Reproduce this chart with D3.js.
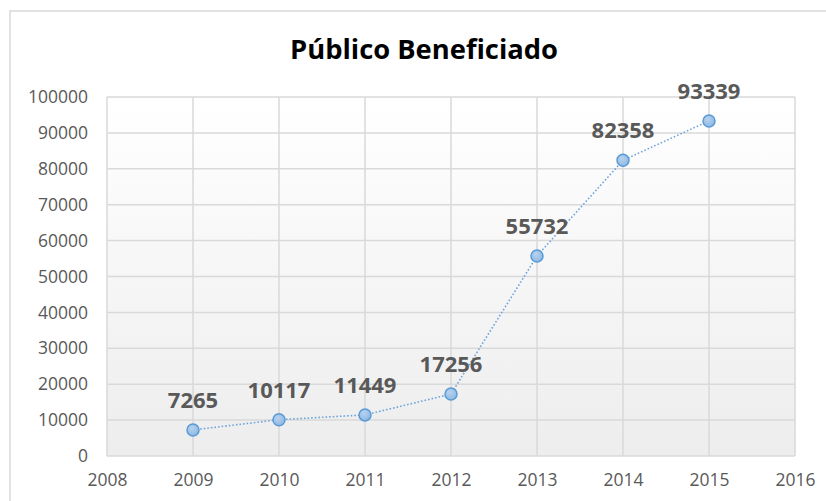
<!DOCTYPE html>
<html>
<head>
<meta charset="utf-8">
<script src="https://cdn.jsdelivr.net/npm/d3@7"></script>
<style>
  html, body { margin: 0; padding: 0; background: #fff; }
  svg { display: block; }
</style>
</head>
<body>
<svg id="chart" width="826" height="501"></svg>
<script>
const years = [2009, 2010, 2011, 2012, 2013, 2014, 2015];
const publico = [7265, 10117, 11449, 17256, 55732, 82358, 93339];
const xTicks = [2008, 2009, 2010, 2011, 2012, 2013, 2014, 2015, 2016];
const yTicks = [0, 10000, 20000, 30000, 40000, 50000, 60000, 70000, 80000, 90000, 100000];
const title = 'Público Beneficiado';

const svg = d3.select('#chart');
const defs = svg.append('defs');

const bg = defs.append('linearGradient').attr('id', 'plotbg')
  .attr('x1', 0).attr('y1', 0).attr('x2', 0).attr('y2', 1);
bg.append('stop').attr('offset', '0%').attr('stop-color', '#ffffff');
bg.append('stop').attr('offset', '100%').attr('stop-color', '#ededed');

const mk = defs.append('radialGradient').attr('id', 'marker')
  .attr('cx', '40%').attr('cy', '35%').attr('r', '70%');
mk.append('stop').attr('offset', '0%').attr('stop-color', '#b7d2ee');
mk.append('stop').attr('offset', '100%').attr('stop-color', '#8db7e3');

// chart frame (cropped on right / bottom)
svg.append('path').attr('d', 'M10,501V11H826')
  .attr('fill', 'none').attr('stroke', '#d9d9d9').attr('stroke-width', 1.5);

const pL = 107, pR = 795, pT = 97, pB = 456;
const x = d3.scaleLinear().domain([2008, 2016]).range([pL, pR]);
const y = d3.scaleLinear().domain([0, 100000]).range([pB, pT]);

svg.append('rect').attr('x', pL).attr('y', pT)
  .attr('width', pR - pL).attr('height', pB - pT)
  .attr('fill', 'url(#plotbg)');

const grid = svg.append('g');
grid.selectAll('line.h').data(yTicks).enter().append('line')
  .attr('x1', pL).attr('x2', pR)
  .attr('y1', d => y(d)).attr('y2', d => y(d))
  .attr('stroke', '#d9d9d9').attr('stroke-width', 1.5);
grid.selectAll('line.v').data(xTicks).enter().append('line')
  .attr('y1', pT).attr('y2', pB)
  .attr('x1', d => x(d)).attr('x2', d => x(d))
  .attr('stroke', '#d9d9d9').attr('stroke-width', 1.5);

const yAxis = svg.append('g').attr('transform', `translate(${pL},0)`)
  .call(d3.axisLeft(y).tickValues(yTicks).tickFormat(d3.format('d')).tickSize(0).tickPadding(19));
const xAxis = svg.append('g').attr('transform', `translate(0,${pB})`)
  .call(d3.axisBottom(x).tickValues(xTicks).tickFormat(d3.format('d')).tickSize(0).tickPadding(18));
[yAxis, xAxis].forEach(a => {
  a.select('.domain').remove();
  a.selectAll('text').attr('fill', '#595959')
    .attr('font-family', '"Open Sans", sans-serif').attr('font-size', '17.5px');
});

svg.append('text').attr('x', 424).attr('y', 59)
  .attr('text-anchor', 'middle')
  .attr('font-family', '"Open Sans", sans-serif').attr('font-weight', 'bold')
  .attr('font-size', '26.5px').attr('fill', '#000')
  .attr('textLength', 268).attr('lengthAdjust', 'spacingAndGlyphs')
  .text(title);

const pts = years.map((yr, i) => ({ year: yr, value: publico[i] }));

svg.append('path').datum(pts)
  .attr('fill', 'none').attr('stroke', '#6fa4dc').attr('stroke-width', 1.6)
  .attr('stroke-dasharray', '1.6 2')
  .attr('d', d3.line().x(d => x(d.year)).y(d => y(d.value)));

svg.selectAll('circle.pt').data(pts).enter().append('circle')
  .attr('cx', d => x(d.year)).attr('cy', d => y(d.value)).attr('r', 6)
  .attr('fill', 'url(#marker)').attr('stroke', '#5b9bd5').attr('stroke-width', 1.5);

svg.selectAll('text.lbl').data(pts).enter().append('text')
  .attr('x', d => x(d.year)).attr('y', d => y(d.value) - 22)
  .attr('text-anchor', 'middle')
  .attr('font-family', '"Open Sans", sans-serif').attr('font-weight', 'bold')
  .attr('font-size', '22px').attr('fill', '#595959')
  .text(d => d.value);
</script>
</body>
</html>
